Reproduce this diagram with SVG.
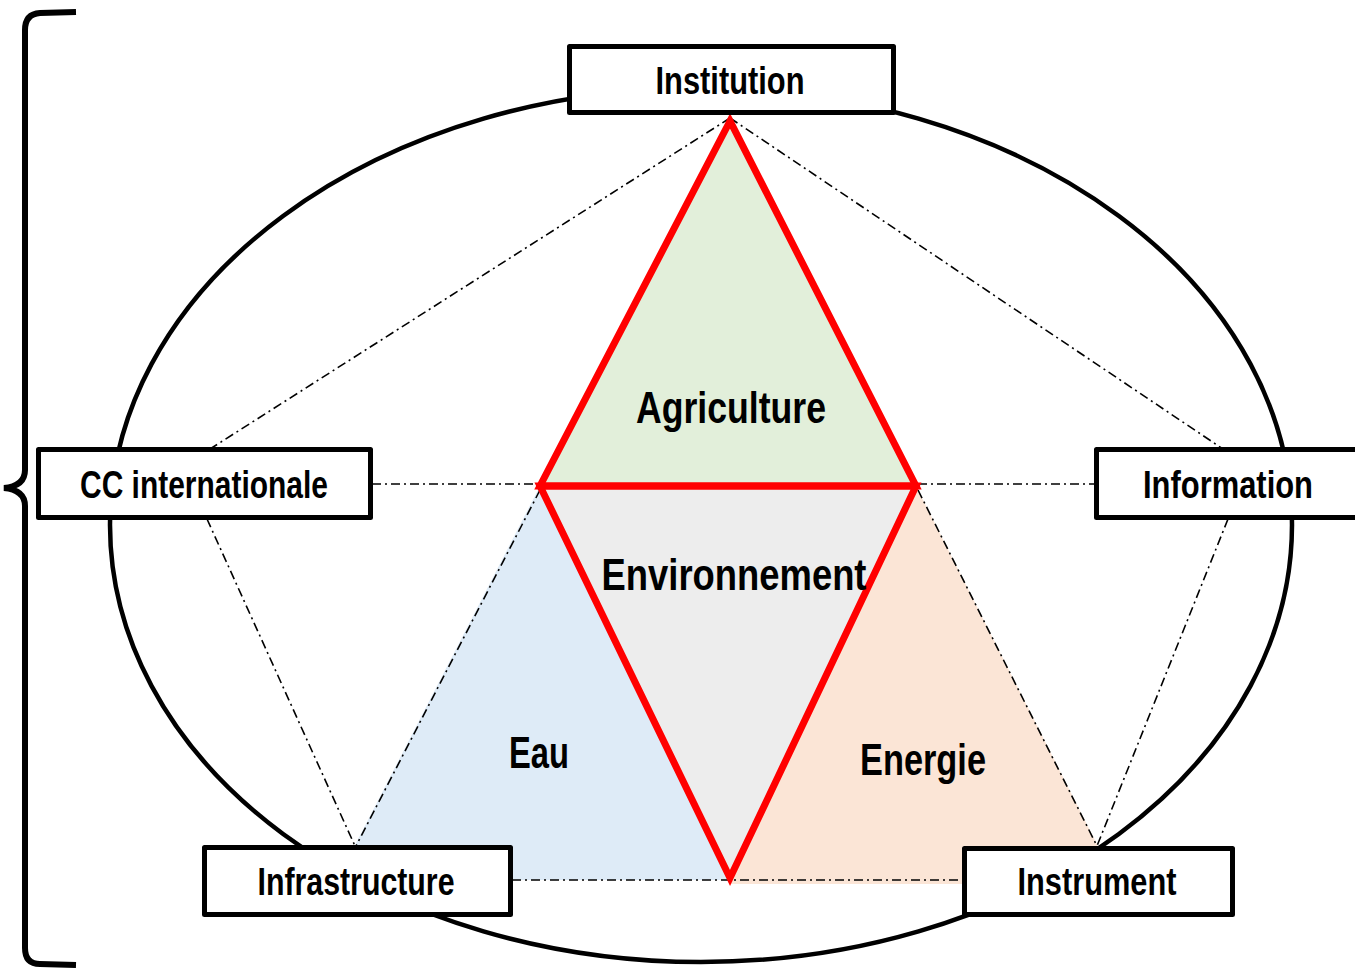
<svg xmlns="http://www.w3.org/2000/svg" width="1355" height="969" viewBox="0 0 1355 969">
<style>
.box{fill:#fff;stroke:#000;stroke-width:5;stroke-linejoin:round}
.lbl{font-family:"Liberation Sans Narrow","Liberation Sans",Arial,sans-serif;font-weight:bold;fill:#000;text-anchor:middle}
.dd{stroke:#000;stroke-width:1.6;fill:none;stroke-dasharray:9 4 2 4}
.red{fill:none;stroke:#ff0000;stroke-width:7;stroke-linejoin:miter}
</style>
<rect width="1355" height="969" fill="#fff"/>
<path id="brace" d="M76,12 L40,13 Q25,14 25,30 L25,470 Q25,486 4,488 Q25,490 25,506 L25,948 Q25,964 40,964 L76,965" fill="none" stroke="#000" stroke-width="6"/>
<ellipse id="ellipse" cx="701" cy="525" rx="591" ry="437" fill="none" stroke="#000" stroke-width="4.5"/>
<g id="fills">
<polygon points="540,486 730,880 337,880" fill="#deebf7"/>
<polygon points="916,486 730,884 1117,884" fill="#fbe5d6"/>
<polygon points="730,121 540,486 916,486" fill="#e2efda"/>
<polygon points="540,486 916,486 730,878" fill="#ededed"/>
</g>
<g id="connectors">
<line class="dd" x1="730" y1="118" x2="210" y2="449"/>
<line class="dd" x1="730" y1="118" x2="1223" y2="449"/>
<line class="dd" x1="207" y1="519" x2="355" y2="846"/>
<line class="dd" x1="1228" y1="519" x2="1097" y2="846"/>
<line class="dd" x1="540" y1="490" x2="356" y2="846"/>
<line class="dd" x1="918" y1="490" x2="1097" y2="846"/>
<line class="dd" x1="372" y1="484" x2="538" y2="484"/>
<line class="dd" x1="918" y1="484" x2="1095" y2="484"/>
<line class="dd" x1="512" y1="880" x2="963" y2="880"/>
</g>
<g id="triangles">
<polygon class="red" points="730,121 540,486 916,486"/>
<polygon class="red" points="540,486 916,486 730,878"/>
</g>
<g id="n-agriculture"><text class="lbl" x="731" y="423" font-size="44" textLength="190" lengthAdjust="spacingAndGlyphs">Agriculture</text></g>
<g id="n-environnement"><text class="lbl" x="734" y="590" font-size="44" textLength="265" lengthAdjust="spacingAndGlyphs">Environnement</text></g>
<g id="n-eau"><text class="lbl" x="539" y="768" font-size="44" textLength="60" lengthAdjust="spacingAndGlyphs">Eau</text></g>
<g id="n-energie"><text class="lbl" x="923" y="775" font-size="44" textLength="126" lengthAdjust="spacingAndGlyphs">Energie</text></g>
<g id="n-institution"><rect class="box" x="569.5" y="46.5" width="324" height="66"/><text class="lbl" x="730" y="94" font-size="38" textLength="149" lengthAdjust="spacingAndGlyphs">Institution</text></g>
<g id="n-cc"><rect class="box" x="38.5" y="449.5" width="332" height="68"/><text class="lbl" x="204" y="498" font-size="38" textLength="248" lengthAdjust="spacingAndGlyphs">CC internationale</text></g>
<g id="n-information"><rect class="box" x="1096.5" y="449.5" width="280" height="68"/><text class="lbl" x="1228" y="498" font-size="38" textLength="170" lengthAdjust="spacingAndGlyphs">Information</text></g>
<g id="n-infrastructure"><rect class="box" x="204.5" y="847.5" width="306" height="67"/><text class="lbl" x="356" y="895" font-size="38" textLength="197" lengthAdjust="spacingAndGlyphs">Infrastructure</text></g>
<g id="n-instrument"><rect class="box" x="964.5" y="848.5" width="268" height="66"/><text class="lbl" x="1097" y="895" font-size="38" textLength="159" lengthAdjust="spacingAndGlyphs">Instrument</text></g>
</svg>
